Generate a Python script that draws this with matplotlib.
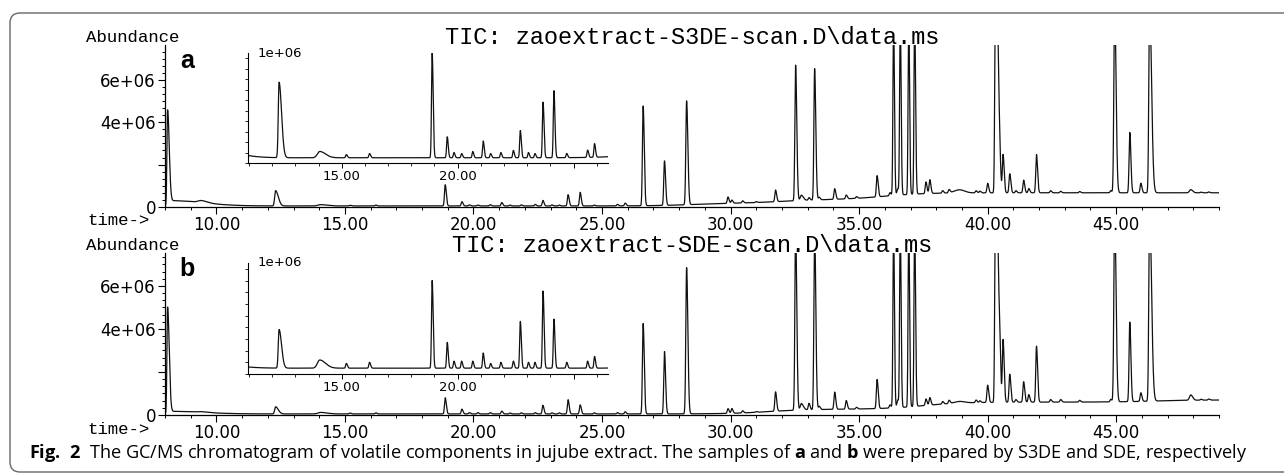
import numpy as np
import matplotlib.pyplot as plt
from matplotlib.ticker import FixedLocator, FixedFormatter, MultipleLocator, FormatStrFormatter
from matplotlib.patches import FancyBboxPatch
from matplotlib.transforms import IdentityTransform

plt.rcParams['font.family'] = ['DejaVu Sans']
plt.rcParams['mathtext.fontset'] = 'custom'
plt.rcParams['mathtext.rm'] = 'Open Sans'
plt.rcParams['mathtext.bf'] = 'Open Sans:bold'

## DATA ##
# retention times of the peaks (min), shared by both extracts
rt = [8.10, 8.20, 9.40, 12.30, 14.05, 15.20, 16.20, 18.90, 19.55, 19.84, 20.17, 20.65, 21.10, 21.42,
      21.86, 22.40, 22.70, 23.05, 23.33, 23.68, 24.15, 24.70, 25.60, 25.90, 26.60, 27.43, 28.29,
      29.90, 30.05, 30.47, 31.00, 31.75, 32.53, 32.75, 33.05, 33.27, 33.45, 34.05, 34.50, 34.90,
      35.70, 36.20, 36.34, 36.50, 36.60, 36.93, 37.16, 37.60, 37.75, 38.25, 38.50, 38.90, 39.55,
      39.70, 40.00, 40.30, 40.38, 40.47, 40.60, 40.86, 41.10, 41.40, 41.60, 41.90, 42.45, 42.84,
      43.58, 44.79, 44.94, 45.53, 45.96, 46.30, 47.90, 48.30, 48.60]
# peak width (min) and tailing factor
sigma = [0.025, 0.05, 0.12, 0.035, 0.10, 0.03, 0.03, 0.028, 0.028, 0.028, 0.028, 0.028, 0.028, 0.028,
         0.028, 0.028, 0.028, 0.028, 0.028, 0.028, 0.028, 0.028, 0.028, 0.028, 0.028, 0.028, 0.03,
         0.028, 0.028, 0.028, 0.028, 0.028, 0.028, 0.04, 0.028, 0.028, 0.028, 0.028, 0.028, 0.028,
         0.028, 0.028, 0.024, 0.03, 0.024, 0.024, 0.024, 0.028, 0.028, 0.028, 0.028, 0.20, 0.028,
         0.028, 0.028, 0.025, 0.025, 0.028, 0.028, 0.028, 0.028, 0.028, 0.028, 0.028, 0.028, 0.028,
         0.028, 0.028, 0.03, 0.028, 0.028, 0.03, 0.05, 0.028, 0.028]
tail = [2.5, 25, 2, 3.0, 2.5, 1.5, 1.5, 1.5, 1.5, 1.5, 1.5, 1.5, 1.5, 1.5,
        1.5, 1.5, 1.5, 1.5, 1.5, 1.5, 1.5, 1.5, 1.5, 1.5, 1.5, 1.5, 1.6,
        1.5, 1.5, 1.5, 1.5, 1.5, 1.6, 2.0, 1.5, 1.6, 1.5, 1.5, 1.5, 1.5,
        1.5, 1.5, 1.4, 1.5, 1.4, 1.4, 1.5, 1.5, 1.5, 1.5, 1.5, 1.0, 1.5,
        1.5, 1.5, 1.5, 2.0, 1.5, 1.5, 1.5, 1.5, 1.5, 1.5, 1.5, 1.5, 1.5,
        1.5, 1.5, 1.8, 1.5, 1.5, 2.5, 1.5, 1.5, 1.5]
# peak heights above baseline (x 1e6 counts)
height_s3de = [4.50, 0.25, 0.10, 0.72, 0.06, 0.03, 0.04, 1.00, 0.20, 0.05, 0.04, 0.06, 0.16, 0.04,
               0.05, 0.07, 0.26, 0.05, 0.04, 0.53, 0.64, 0.04, 0.07, 0.13, 4.70, 2.10, 4.90,
               0.30, 0.15, 0.10, 0.04, 0.55, 6.40, 0.25, 0.12, 6.20, 0.12, 0.50, 0.18, 0.08,
               1.00, 0.15, 8.5, 0.30, 8.5, 8.5, 8.5, 0.55, 0.65, 0.12, 0.15, 0.15, 0.10,
               0.08, 0.45, 9.0, 8.0, 1.40, 1.80, 0.90, 0.10, 0.60, 0.20, 1.80, 0.10, 0.07,
               0.06, 0.10, 9.0, 2.85, 0.45, 9.0, 0.15, 0.03, 0.04]
height_sde = [4.95, 0.12, 0.03, 0.33, 0.07, 0.04, 0.05, 0.75, 0.22, 0.06, 0.06, 0.06, 0.13, 0.04,
              0.05, 0.06, 0.40, 0.05, 0.05, 0.66, 0.42, 0.05, 0.06, 0.10, 4.20, 2.90, 6.80,
              0.22, 0.22, 0.10, 0.03, 0.90, 8.5, 0.30, 0.30, 8.5, 0.15, 0.80, 0.40, 0.08,
              1.35, 0.15, 8.5, 0.35, 8.5, 8.5, 8.5, 0.30, 0.35, 0.12, 0.15, 0.08, 0.12,
              0.08, 0.80, 9.0, 8.0, 2.10, 2.90, 1.30, 0.12, 0.95, 0.35, 2.60, 0.12, 0.12,
              0.08, 0.12, 9.0, 3.70, 0.40, 9.0, 0.25, 0.04, 0.05]
# baseline drift: times of the rises and their size (x 1e6)
drift_t_s3de = [28.5, 32.0, 36.0]
drift_s3de = [0.13, 0.17, 0.32]
drift_t_sde = [31.5, 37.5, 46.5]
drift_sde = [0.22, 0.33, 0.10]

titles = ['TIC: zaoextract-S3DE-scan.D\\data.ms', 'TIC: zaoextract-SDE-scan.D\\data.ms']
panel_letters = ['a', 'b']

t = np.arange(8.0, 49.0, 0.004)


def trace(heights, drift_t, drift):
    y = np.full_like(t, 0.05)
    for tc, r in zip(drift_t, drift):
        y += r / (1 + np.exp(-(t - tc) / 0.8))
    for c, h, s, k in zip(rt, heights, sigma, tail):
        sw = np.where(t < c, s, s * k)
        y += h * np.exp(-0.5 * ((t - c) / sw) ** 2)
    return y


W, H = 1284, 474


def px(x, y):
    return x / W, 1 - y / H


fig = plt.figure(figsize=(12.84, 4.74), dpi=100)

# pixel layout of each panel: main top, main bottom, inset top, inset bottom, ymax main, ymax inset
layout = [(45, 207, 53, 163, 7.64, 1.05), (253, 415, 263, 374, 7.53, 0.95)]
signals = [trace(height_s3de, drift_t_s3de, drift_s3de), trace(height_sde, drift_t_sde, drift_sde)]

for i, (top, bot, itop, ibot, ymax, iymax) in enumerate(layout):
    y = signals[i]
    ax = fig.add_axes([165 / W, 1 - bot / H, (1219 - 165) / W, (bot - top) / H])
    ax.plot(t, y, color='#111111', lw=0.9)
    ax.set_xlim(8.0, 49.0)
    ax.set_ylim(0, ymax)
    for s in ['top', 'right']:
        ax.spines[s].set_visible(False)
    for s in ['left', 'bottom']:
        ax.spines[s].set_linewidth(0.9)
    ax.xaxis.set_major_locator(MultipleLocator(5))
    ax.xaxis.set_minor_locator(MultipleLocator(1))
    ax.xaxis.set_major_formatter(FormatStrFormatter('%.2f'))
    ax.yaxis.set_major_locator(FixedLocator([0, 2, 4, 6]))
    ax.yaxis.set_major_formatter(FixedFormatter(['0', '', '4e+06', '6e+06']))
    ax.yaxis.set_minor_locator(MultipleLocator(1 / 3))
    ax.tick_params(which='major', direction='out', length=5, width=0.8, labelsize=12, pad=1.5)
    ax.tick_params(which='minor', direction='out', length=2.5, width=0.7)

    # inset zoom on the early part
    axi = fig.add_axes([248 / W, 1 - ibot / H, (608 - 248) / W, (ibot - itop) / H])
    axi.set_facecolor('white')
    axi.plot(t, y, color='#111111', lw=0.9)
    axi.set_xlim(10.96, 26.48)
    axi.set_ylim(0, iymax)
    for s in ['top', 'right']:
        axi.spines[s].set_visible(False)
    axi.xaxis.set_major_locator(FixedLocator([15, 20, 25]))
    axi.xaxis.set_major_formatter(FixedFormatter(['15.00', '20.00', '']))
    axi.xaxis.set_minor_locator(MultipleLocator(1))
    axi.yaxis.set_major_locator(FixedLocator([]))
    axi.yaxis.set_minor_locator(MultipleLocator(0.1))
    axi.tick_params(which='major', direction='out', length=3.5, width=0.7, labelsize=9.5, pad=1.5)
    axi.tick_params(which='minor', direction='out', length=2, width=0.6)
    axi.text(10 / 360, 1.0, '1e+06', transform=axi.transAxes, fontsize=9.5, va='center', ha='left')

    yoff = top - 45
    fig.text(*px(86, 37 + yoff), 'Abundance', family='Liberation Mono', fontsize=12.5, va='center')
    fig.text(*px(692, 37 + yoff), titles[i], family='Liberation Mono', fontsize=17, va='center', ha='center')
    fig.text(*px(187, 68 + yoff), panel_letters[i], family='Liberation Sans', fontweight='bold',
             fontsize=18, ha='center', va='baseline')
    fig.text(*px(87, bot + 14), 'time->', family='Liberation Mono', fontsize=12.5, va='center')

caption = (r"$\mathbf{Fig.\ 2}$  The GC/MS chromatogram of volatile components in jujube extract. "
           r"The samples of $\mathbf{a}$ and $\mathbf{b}$ were prepared by S3DE and SDE, respectively")
fig.text(*px(29, 453), caption, family='Open Sans', fontsize=13.1, va='center', ha='left')

frame = FancyBboxPatch((10, 2), 1300, 459, boxstyle='round,pad=0,rounding_size=10',
                       transform=IdentityTransform(), fill=False, edgecolor='#666666', lw=1.0)
fig.patches.append(frame)

fig.savefig('out.png', dpi=100)
